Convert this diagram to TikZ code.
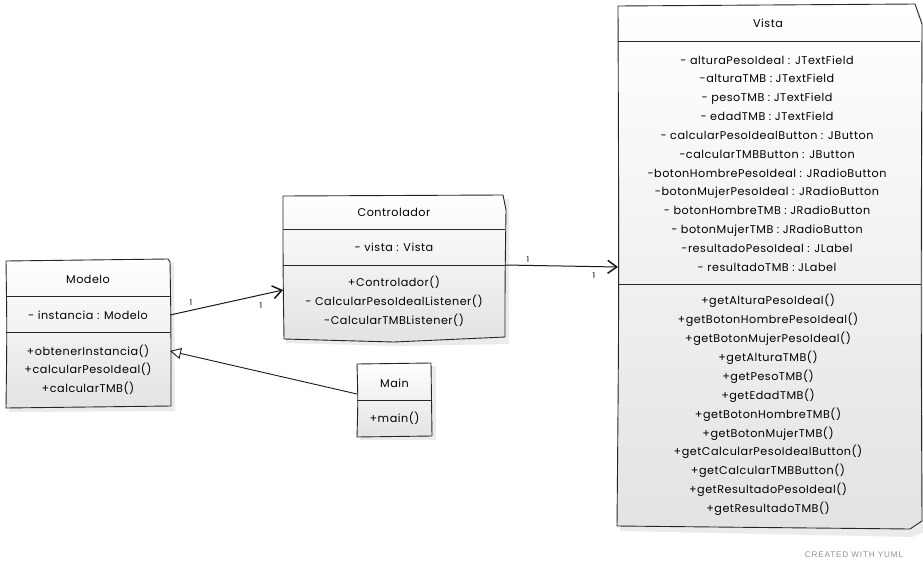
\documentclass[tikz,border=0pt]{standalone}
\usepackage{fontspec}
\setmainfont[LetterSpace=4.5]{Poppins}
\newfontfamily\creditfont[LetterSpace=10]{Liberation Sans}
\usetikzlibrary{arrows.meta}
\definecolor{yumlgray}{HTML}{8A95A3}
\begin{document}
\begin{tikzpicture}[x=1pt,y=-1pt,
  box/.style={draw=none, inner sep=0, outer sep=0},
  boxfill/.style={draw=black!85, line width=0.9pt, top color=white, bottom color=black!11, line join=round},
  shadowfill/.style={fill=black!8, draw=none},
  divider/.style={draw=black!85, line width=0.8pt},
  umltext/.style={font=\fontsize{11.2}{18.85}\selectfont, inner sep=0, align=center},
  assoc/.style={draw=black!90, line width=1pt, -{Straight Barb[length=9pt,width=13pt,line width=1.5pt]}},
  inherit/.style={draw=black!90, line width=0.9pt, -{Triangle[open,length=11pt,width=11pt,fill=white]}},
  mult/.style={font=\fontsize{8}{9}\selectfont, inner sep=0}
]
\useasboundingbox (0,0) rectangle (923,570);
\fill[white] (0,0) rectangle (923,570);

% ---------- Modelo ----------
\node[box, minimum width=164, minimum height=148] (modelo) at (88,334) {};
\fill[shadowfill] (9,264) -- (174,262) -- (175,411) -- (9,412) -- cycle;
\draw[boxfill] (6,261) -- (168,259) -- (170,262) .. controls (171,320) .. (171,406) -- (6,408) .. controls (7,330) .. cycle;
\draw[divider] (6,296) -- (170,296);
\draw[divider] (6,332) -- (170,332);
\node[umltext] (modeloT) at (88,279) {Modelo};
\node[umltext] (modeloA) at (88,315) {- instancia : Modelo};
\node[umltext, font=\fontsize{11.2}{18.5}\selectfont] (modeloM) at (88,369.5) {+obtenerInstancia()\\+calcularPesoIdeal()\\+calcularTMB()};

% ---------- Controlador ----------
\node[box, minimum width=222, minimum height=145] (ctrl) at (394,267.5) {};
\fill[shadowfill] (286,199) -- (509,199) -- (509,344) -- (394,346) -- (286,343) -- cycle;
\draw[boxfill] (283,196) -- (503,195) -- (506,210) .. controls (505,280) .. (505,337) -- (394,342) -- (284,339) .. controls (283,270) .. cycle;
\draw[divider] (283,229) -- (505,229);
\draw[divider] (283,265) -- (505,265);
\node[umltext] (ctrlT) at (394,212) {Controlador};
\node[umltext] (ctrlA) at (394,247) {- vista : Vista};
\node[umltext, font=\fontsize{11.2}{19}\selectfont] (ctrlM) at (394,301) {+Controlador()\\- CalcularPesoIdealListener()\\-CalcularTMBListener()};

% ---------- Main ----------
\node[box, minimum width=75, minimum height=73] (main) at (394.5,399.5) {};
\fill[shadowfill] (360,366) -- (436,366) -- (436,440) -- (360,440) -- cycle;
\draw[boxfill] (357,364) -- (431,363) .. controls (432,400) .. (432,436) -- (357,437) .. controls (358,400) .. cycle;
\draw[divider] (357,400) -- (432,400);
\node[umltext] (mainT) at (394.5,383) {Main};
\node[umltext] (mainM) at (394.5,418) {+main()};

% ---------- Vista ----------
\node[box, minimum width=304, minimum height=524] (vista) at (770,268) {};
\fill[shadowfill] (621,10) -- (918,9) -- (925,28) -- (925,532) -- (912,537) -- (620,531) -- cycle;
\draw[boxfill] (618,6) -- (915,4) -- (922,24) .. controls (921,300) .. (922,521) -- (910,529) -- (617,526) .. controls (619,300) .. cycle;
\draw[divider] (618,41) -- (920,41);
\draw[divider] (618,284) -- (921,284);
\node[umltext] (vistaT) at (768,23) {Vista};
\node[umltext] (vistaA) at (767,163.5) {- alturaPesoIdeal : JTextField\\-alturaTMB : JTextField\\- pesoTMB : JTextField\\- edadTMB : JTextField\\- calcularPesoIdealButton : JButton\\-calcularTMBButton : JButton\\-botonHombrePesoIdeal : JRadioButton\\-botonMujerPesoIdeal : JRadioButton\\- botonHombreTMB : JRadioButton\\- botonMujerTMB : JRadioButton\\-resultadoPesoIdeal : JLabel\\- resultadoTMB : JLabel};
\node[umltext, font=\fontsize{11.2}{18.9}\selectfont] (vistaM) at (768,405) {+getAlturaPesoIdeal()\\+getBotonHombrePesoIdeal()\\+getBotonMujerPesoIdeal()\\+getAlturaTMB()\\+getPesoTMB()\\+getEdadTMB()\\+getBotonHombreTMB()\\+getBotonMujerTMB()\\+getCalcularPesoIdealButton()\\+getCalcularTMBButton()\\+getResultadoPesoIdeal()\\+getResultadoTMB()};

% ---------- connectors ----------
\draw[assoc] ([yshift=19pt]modelo.east) -- ([yshift=-22.5pt]ctrl.west);
\node[mult] (m1) at (191,303) {1};
\node[mult] (m2) at (261,306) {1};
\draw[assoc] ([yshift=2.5pt]ctrl.east) -- ([yshift=1pt]vista.west);
\node[mult] (m3) at (528,260) {1};
\node[mult] (m4) at (594,276) {1};
\draw[inherit] ([yshift=5.5pt]main.west) -- ([yshift=-17pt]modelo.east);

% ---------- footer ----------
\node[font=\creditfont\fontsize{8.2}{9}\selectfont, text=yumlgray, inner sep=0] (credit) at (854,555) {CREATED WITH YUML};
\end{tikzpicture}
\end{document}
